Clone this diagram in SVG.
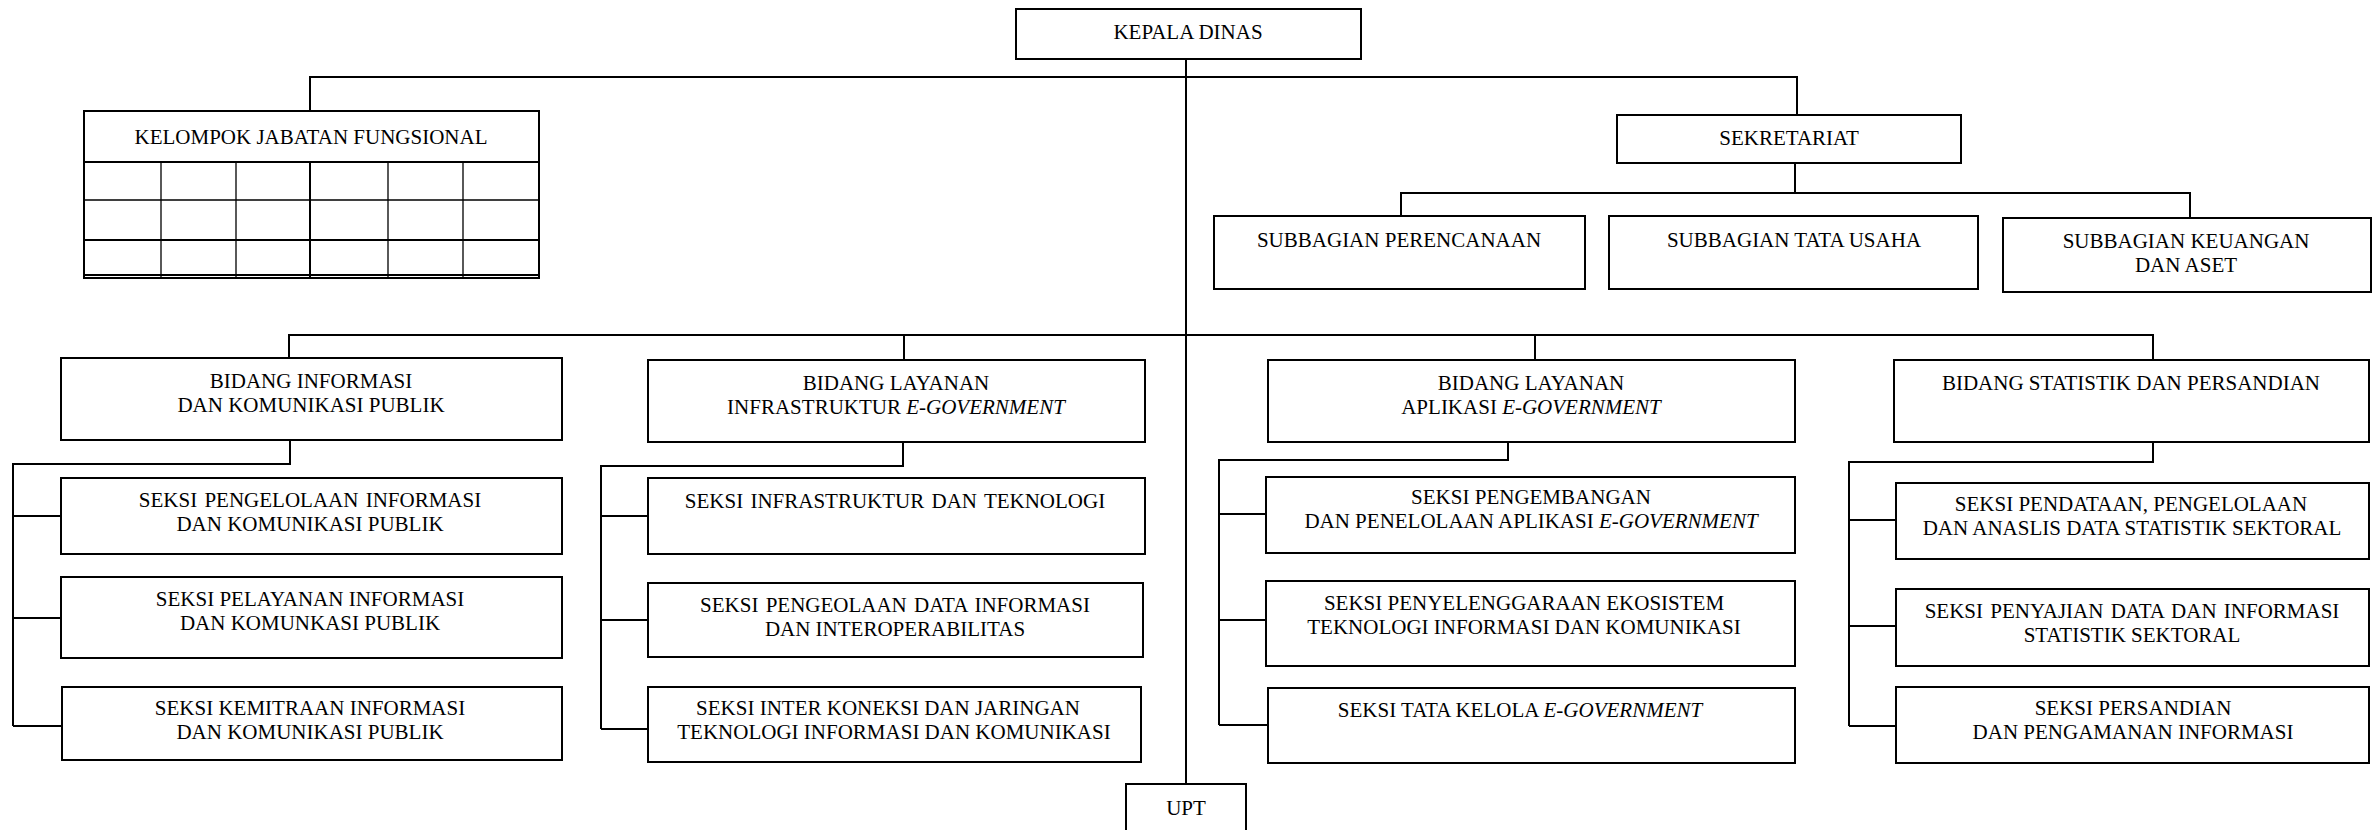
<svg xmlns="http://www.w3.org/2000/svg" width="2373" height="830" viewBox="0 0 2373 830">
<style>
.box{fill:#fff;stroke:#000;stroke-width:2}
.ln{fill:none;stroke:#000;stroke-width:2}
.thin{fill:none;stroke:#000;stroke-width:1.3}
.t{font-family:"Liberation Serif","DejaVu Serif",serif;font-size:21px;text-anchor:middle;fill:#000}
.i{font-style:italic}
</style>
<rect width="2373" height="830" fill="#fff"/>
<g id="connectors">
<path class="ln" d="M310,111 V77 H1797 V115"/>
<path class="ln" d="M1186,59 V784"/>
<path class="ln" d="M1795,163 V193"/>
<path class="ln" d="M1401,216 V193 H2190 V218"/>
<path class="ln" d="M289,358 V335 H2153 V360"/>
<path class="ln" d="M904,335 V360"/>
<path class="ln" d="M1535,335 V360"/>
<path class="ln" d="M290,440 V464 H13 V726"/>
<path class="ln" d="M13,516 H61 M13,618 H61 M13,726 H62"/>
<path class="ln" d="M903,442 V466 H601 V729"/>
<path class="ln" d="M601,516 H648 M601,620 H648 M601,729 H648"/>
<path class="ln" d="M1508,442 V460 H1219 V725"/>
<path class="ln" d="M1219,514 H1266 M1219,620 H1266 M1219,725 H1268"/>
<path class="ln" d="M2153,442 V462 H1849 V726"/>
<path class="ln" d="M1849,520 H1896 M1849,626 H1896 M1849,726 H1896"/>
</g>
<g id="kepala-dinas">
<rect class="box" x="1016" y="9" width="345" height="50"/>
<text class="t" x="1188" y="39">KEPALA DINAS</text>
</g>
<g id="kelompok-jabatan-fungsional">
<rect class="box" x="84" y="111" width="455" height="167"/>
<path class="ln" d="M84,162 H539 M84,240 H539 M84,275 H539"/>
<path class="thin" d="M84,200 H539 M161,162 V278 M236,162 V278 M388,162 V278 M463,162 V278"/>
<path class="ln" d="M310,162 V278"/>
<text class="t" x="311" y="144">KELOMPOK JABATAN FUNGSIONAL</text>
</g>
<g id="sekretariat">
<rect class="box" x="1617" y="115" width="344" height="48"/>
<text class="t" x="1789" y="145">SEKRETARIAT</text>
</g>
<g id="subbagian-perencanaan">
<rect class="box" x="1214" y="216" width="371" height="73"/>
<text class="t" x="1399" y="247">SUBBAGIAN PERENCANAAN</text>
</g>
<g id="subbagian-tata-usaha">
<rect class="box" x="1609" y="216" width="369" height="73"/>
<text class="t" x="1794" y="247">SUBBAGIAN TATA USAHA</text>
</g>
<g id="subbagian-keuangan">
<rect class="box" x="2003" y="218" width="368" height="74"/>
<text class="t" x="2186" y="248">SUBBAGIAN KEUANGAN</text>
<text class="t" x="2186" y="272">DAN ASET</text>
</g>
<g id="bidang-informasi">
<rect class="box" x="61" y="358" width="501" height="82"/>
<text class="t" x="311" y="388">BIDANG INFORMASI</text>
<text class="t" x="311" y="412">DAN KOMUNIKASI PUBLIK</text>
</g>
<g id="bidang-infrastruktur">
<rect class="box" x="648" y="360" width="497" height="82"/>
<text class="t" x="896" y="390">BIDANG LAYANAN</text>
<text class="t" x="896" y="414">INFRASTRUKTUR <tspan class="i">E-GOVERNMENT</tspan></text>
</g>
<g id="bidang-aplikasi">
<rect class="box" x="1268" y="360" width="527" height="82"/>
<text class="t" x="1531" y="390">BIDANG LAYANAN</text>
<text class="t" x="1531" y="414">APLIKASI <tspan class="i">E-GOVERNMENT</tspan></text>
</g>
<g id="bidang-statistik">
<rect class="box" x="1894" y="360" width="475" height="82"/>
<text class="t" x="2131" y="390">BIDANG STATISTIK DAN PERSANDIAN</text>
</g>
<g id="seksi-pengelolaan-informasi">
<rect class="box" x="61" y="478" width="501" height="76"/>
<text class="t" x="310" y="507" word-spacing="2">SEKSI PENGELOLAAN INFORMASI</text>
<text class="t" x="310" y="531">DAN KOMUNIKASI PUBLIK</text>
</g>
<g id="seksi-pelayanan-informasi">
<rect class="box" x="61" y="577" width="501" height="81"/>
<text class="t" x="310" y="606">SEKSI PELAYANAN INFORMASI</text>
<text class="t" x="310" y="630">DAN KOMUNKASI PUBLIK</text>
</g>
<g id="seksi-kemitraan-informasi">
<rect class="box" x="62" y="687" width="500" height="73"/>
<text class="t" x="310" y="715">SEKSI KEMITRAAN INFORMASI</text>
<text class="t" x="310" y="739">DAN KOMUNIKASI PUBLIK</text>
</g>
<g id="seksi-infrastruktur-teknologi">
<rect class="box" x="648" y="478" width="497" height="76"/>
<text class="t" x="895" y="508" word-spacing="2">SEKSI INFRASTRUKTUR DAN TEKNOLOGI</text>
</g>
<g id="seksi-pengelolaan-data">
<rect class="box" x="648" y="583" width="495" height="74"/>
<text class="t" x="895" y="612" word-spacing="2">SEKSI PENGEOLAAN DATA INFORMASI</text>
<text class="t" x="895" y="636">DAN INTEROPERABILITAS</text>
</g>
<g id="seksi-interkoneksi">
<rect class="box" x="648" y="687" width="493" height="75"/>
<text class="t" x="888" y="715">SEKSI INTER KONEKSI DAN JARINGAN</text>
<text class="t" x="894" y="739">TEKNOLOGI INFORMASI DAN KOMUNIKASI</text>
</g>
<g id="seksi-pengembangan-aplikasi">
<rect class="box" x="1266" y="477" width="529" height="76"/>
<text class="t" x="1531" y="504">SEKSI PENGEMBANGAN</text>
<text class="t" x="1531" y="528">DAN PENELOLAAN APLIKASI <tspan class="i">E-GOVERNMENT</tspan></text>
</g>
<g id="seksi-ekosistem-tik">
<rect class="box" x="1266" y="581" width="529" height="85"/>
<text class="t" x="1524" y="610">SEKSI PENYELENGGARAAN EKOSISTEM</text>
<text class="t" x="1524" y="634">TEKNOLOGI INFORMASI DAN KOMUNIKASI</text>
</g>
<g id="seksi-tata-kelola">
<rect class="box" x="1268" y="688" width="527" height="75"/>
<text class="t" x="1520" y="717">SEKSI TATA KELOLA <tspan class="i">E-GOVERNMENT</tspan></text>
</g>
<g id="seksi-pendataan">
<rect class="box" x="1896" y="483" width="473" height="76"/>
<text class="t" x="2131" y="511">SEKSI PENDATAAN, PENGELOLAAN</text>
<text class="t" x="2132" y="535">DAN ANASLIS DATA STATISTIK SEKTORAL</text>
</g>
<g id="seksi-penyajian-data">
<rect class="box" x="1896" y="589" width="473" height="77"/>
<text class="t" x="2132" y="618" word-spacing="2">SEKSI PENYAJIAN DATA DAN INFORMASI</text>
<text class="t" x="2132" y="642">STATISTIK SEKTORAL</text>
</g>
<g id="seksi-persandian">
<rect class="box" x="1896" y="687" width="473" height="76"/>
<text class="t" x="2133" y="715">SEKSI PERSANDIAN</text>
<text class="t" x="2133" y="739">DAN PENGAMANAN INFORMASI</text>
</g>
<g id="upt">
<rect class="box" x="1126" y="784" width="120" height="60"/>
<text class="t" x="1186" y="815">UPT</text>
</g>
</svg>
